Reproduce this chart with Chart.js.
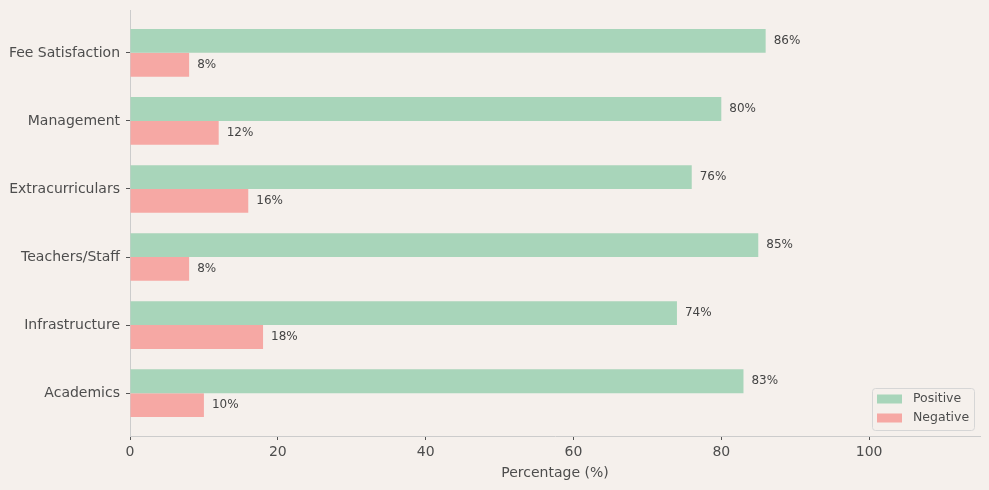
<!DOCTYPE html>
<html>
<head>
<meta charset="utf-8">
<script src="https://cdn.jsdelivr.net/npm/chart.js@4"></script>
<style>
    html, body { margin: 0; padding: 0; background: #f5f0ec; }
    #wrap { width: 989px; height: 490px; }
</style>
</head>
<body>
<div id="wrap"><canvas id="surveyChart"></canvas></div>
<script>
// data, top row first
var categories = ['Fee Satisfaction', 'Management', 'Extracurriculars', 'Teachers/Staff', 'Infrastructure', 'Academics'];
var positive = [86, 80, 76, 85, 74, 83];
var negative = [8, 12, 16, 8, 18, 10];
var xTicks = [0, 20, 40, 60, 80, 100];

var textColor = '#4d4d4d';
var spineColor = '#cccccc';
var fontFamily = '"DejaVu Sans", sans-serif';

function toPoints(values) {
    return values.map(function (v, i) { return { x: v, y: i }; });
}

// percent labels at the end of each bar
var valueLabels = {
    id: 'valueLabels',
    afterDatasetsDraw: function (chart) {
        var ctx = chart.ctx;
        ctx.save();
        ctx.font = '12px ' + fontFamily;
        ctx.fillStyle = '#444444';
        ctx.textAlign = 'left';
        ctx.textBaseline = 'middle';
        chart.data.datasets.forEach(function (ds, di) {
            var meta = chart.getDatasetMeta(di);
            meta.data.forEach(function (bar, i) {
                ctx.fillText(ds.data[i].x + '%', bar.x + 8, bar.y);
            });
        });
        ctx.restore();
    }
};

// legend box in the lower right corner of the plot
var cornerLegend = {
    id: 'cornerLegend',
    afterDraw: function (chart) {
        var ctx = chart.ctx;
        var area = chart.chartArea;
        var w = 102, h = 42;
        var x = area.right - 6 - w;
        var y = area.bottom - 6 - h;
        ctx.save();
        ctx.beginPath();
        ctx.roundRect(x + 0.5, y + 0.5, w, h, 3);
        ctx.fillStyle = 'rgba(245, 240, 236, 0.8)';
        ctx.fill();
        ctx.strokeStyle = '#d6d6d6';
        ctx.lineWidth = 1;
        ctx.stroke();
        ctx.font = '12.5px ' + fontFamily;
        ctx.textBaseline = 'middle';
        ctx.textAlign = 'left';
        chart.data.datasets.forEach(function (ds, i) {
            var cy = y + 11 + i * 19;
            ctx.fillStyle = ds.backgroundColor;
            ctx.fillRect(x + 5, cy - 4.5, 25, 9);
            ctx.fillStyle = textColor;
            ctx.fillText(ds.label, x + 41, cy);
        });
        ctx.restore();
    }
};

document.addEventListener('DOMContentLoaded', function () {
    var ctx = document.getElementById('surveyChart').getContext('2d');

    new Chart(ctx, {
        type: 'bar',
        data: {
            datasets: [{
                label: 'Positive',
                data: toPoints(positive),
                backgroundColor: '#a8d5ba',
                borderWidth: 0
            }, {
                label: 'Negative',
                data: toPoints(negative),
                backgroundColor: '#f6a8a4',
                borderWidth: 0
            }]
        },
        options: {
            indexAxis: 'y',
            responsive: true,
            maintainAspectRatio: false,
            animation: false,
            categoryPercentage: 0.7,
            barPercentage: 1.0,
            layout: {
                padding: { top: 10, right: 9, left: 0, bottom: 0 }
            },
            plugins: {
                legend: { display: false },
                tooltip: { enabled: false }
            },
            scales: {
                x: {
                    type: 'linear',
                    min: 0,
                    max: 115,
                    afterBuildTicks: function (scale) {
                        scale.ticks = xTicks.map(function (v) { return { value: v }; });
                    },
                    afterFit: function (scale) {
                        scale.height = 54;
                        scale.paddingLeft = 0;
                        scale.paddingRight = 0;
                    },
                    grid: {
                        drawOnChartArea: false,
                        drawTicks: true,
                        tickLength: 4,
                        color: '#555555'
                    },
                    border: { display: true, color: spineColor },
                    ticks: {
                        color: textColor,
                        font: { family: fontFamily, size: 14 },
                        padding: 4,
                        maxRotation: 0
                    },
                    title: {
                        display: true,
                        text: 'Percentage (%)',
                        color: textColor,
                        font: { family: fontFamily, size: 14 },
                        padding: { top: 4, bottom: 8 }
                    }
                },
                y: {
                    type: 'linear',
                    reverse: true,
                    offset: false,
                    min: -0.63,
                    max: categories.length - 1 + 0.63,
                    afterBuildTicks: function (scale) {
                        scale.ticks = categories.map(function (c, i) { return { value: i }; });
                    },
                    afterFit: function (scale) {
                        scale.width = 130;
                        scale.paddingTop = 0;
                        scale.paddingBottom = 0;
                    },
                    grid: {
                        offset: false,
                        drawOnChartArea: false,
                        drawTicks: true,
                        tickLength: 4,
                        color: '#555555'
                    },
                    border: { display: true, color: spineColor },
                    ticks: {
                        color: textColor,
                        font: { family: fontFamily, size: 14 },
                        padding: 6,
                        callback: function (value) { return categories[value]; }
                    }
                }
            }
        },
        plugins: [valueLabels, cornerLegend]
    });
});
</script>
</body>
</html>
